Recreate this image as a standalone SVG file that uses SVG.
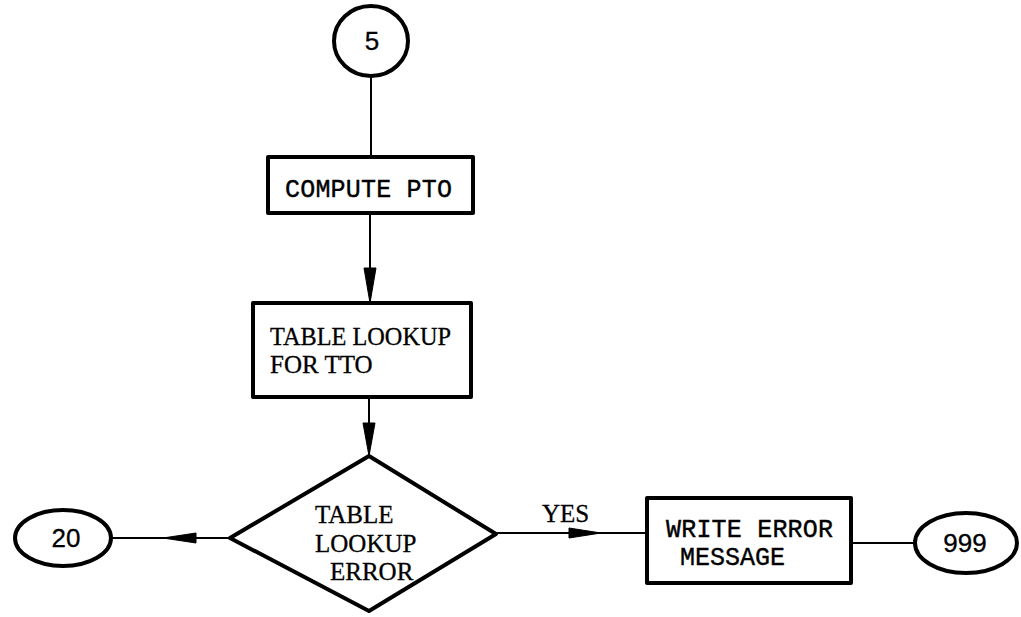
<svg xmlns="http://www.w3.org/2000/svg" width="1021" height="617" viewBox="0 0 1021 617">
<style>
.shape{fill:#fff;stroke:#000;stroke-width:4;stroke-linejoin:round}
.conn{stroke:#000;stroke-width:2;fill:none}
.head{fill:#000;stroke:#000;stroke-width:1}
.mono{font-family:"Liberation Mono","DejaVu Sans Mono",monospace;font-size:25px;fill:#000;stroke:#000;stroke-width:0.4}
.serif{font-family:"Liberation Serif","DejaVu Serif",serif;font-size:25px;fill:#000;stroke:#000;stroke-width:0.3}
.sans{font-family:"Liberation Sans","DejaVu Sans",sans-serif;font-size:26px;fill:#000;stroke:#000;stroke-width:0.3}
</style>
<rect width="1021" height="617" fill="#fff"/>
<g id="connectors">
<line class="conn" x1="371" y1="77" x2="371" y2="157"/>
<line class="conn" x1="370" y1="213" x2="370" y2="303"/>
<polygon class="head" points="364,268 376,268 370,303"/>
<line class="conn" x1="369" y1="397" x2="369" y2="456"/>
<polygon class="head" points="363,423 375,423 369,456"/>
<line class="conn" x1="112" y1="538" x2="230" y2="538"/>
<polygon class="head" points="196,533 196,543 163,538"/>
<line class="conn" x1="496" y1="533" x2="647" y2="533"/>
<polygon class="head" points="569,528 569,538 601,533"/>
<text class="serif" x="542" y="522" font-size="22">YES</text>
<line class="conn" x1="851" y1="543" x2="915" y2="543"/>
</g>
<g id="n5">
<ellipse class="shape" cx="371" cy="41" rx="37" ry="35"/>
<text class="sans" x="372" y="50" text-anchor="middle">5</text>
</g>
<g id="compute">
<rect class="shape" x="268" y="157" width="205" height="56"/>
<text class="mono" x="285" y="197" textLength="167">COMPUTE PTO</text>
</g>
<g id="lookup">
<rect class="shape" x="253" y="303" width="218" height="94"/>
<text class="serif" x="270" y="345" textLength="181" lengthAdjust="spacingAndGlyphs">TABLE LOOKUP</text>
<text class="serif" x="270" y="373">FOR TTO</text>
</g>
<g id="decision">
<polygon class="shape" points="369,456 496,534 369,611 230,538"/>
<text class="serif" x="315" y="523" font-size="23">TABLE</text>
<text class="serif" x="315" y="552" font-size="23">LOOKUP</text>
<text class="serif" x="330" y="580" font-size="23">ERROR</text>
</g>
<g id="n20">
<ellipse class="shape" cx="63" cy="538" rx="48" ry="28"/>
<text class="sans" x="66" y="547" text-anchor="middle">20</text>
</g>
<g id="writeerr">
<rect class="shape" x="647" y="498" width="204" height="85"/>
<text class="mono" x="666" y="537" textLength="167">WRITE ERROR</text>
<text class="mono" x="680" y="565">MESSAGE</text>
</g>
<g id="n999">
<ellipse class="shape" cx="966" cy="543" rx="51" ry="30"/>
<text class="sans" x="965" y="552" text-anchor="middle">999</text>
</g>
</svg>
